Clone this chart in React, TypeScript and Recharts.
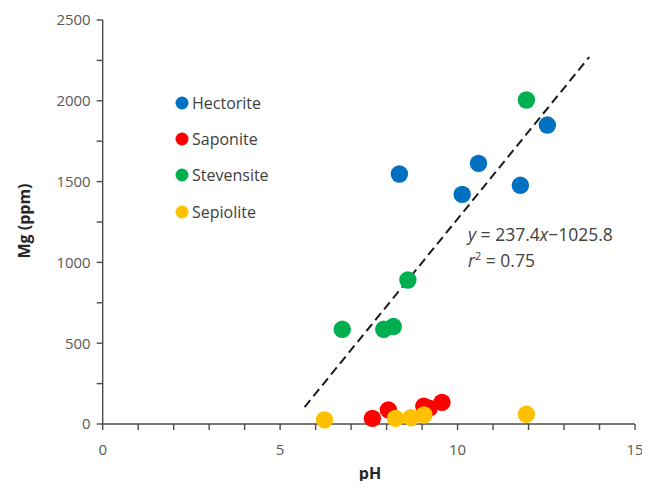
import React from "react";
import {
  ScatterChart,
  Scatter,
  XAxis,
  YAxis,
  ReferenceLine,
} from "recharts";

// values (pH, Mg ppm)
const hectorite = [
  { ph: 8.36, mg: 1547 },
  { ph: 10.13, mg: 1421 },
  { ph: 10.59, mg: 1613 },
  { ph: 11.77, mg: 1477 },
  { ph: 12.53, mg: 1850 },
];

const saponite = [
  { ph: 7.6, mg: 35 },
  { ph: 8.05, mg: 87 },
  { ph: 9.05, mg: 110 },
  { ph: 9.2, mg: 98 },
  { ph: 9.56, mg: 134 },
];

const stevensite = [
  { ph: 6.75, mg: 586 },
  { ph: 7.92, mg: 586 },
  { ph: 8.19, mg: 603 },
  { ph: 8.6, mg: 891 },
  { ph: 11.94, mg: 2005 },
];

const sepiolite = [
  { ph: 6.25, mg: 25 },
  { ph: 8.25, mg: 35 },
  { ph: 8.69, mg: 39 },
  { ph: 9.05, mg: 56 },
  { ph: 11.94, mg: 60 },
];

const trendStart = { x: 5.69, y: 105 };
const trendEnd = { x: 13.71, y: 2271 };

const xTicks = [0, 1, 2, 3, 4, 5, 6, 7, 8, 9, 10, 11, 12, 13, 14, 15];
const yTicks = [0, 250, 500, 750, 1000, 1250, 1500, 1750, 2000, 2250, 2500];

const series = [
  { name: "Hectorite", data: hectorite, color: "#0070C0" },
  { name: "Saponite", data: saponite, color: "#FF0000" },
  { name: "Stevensite", data: stevensite, color: "#00B050" },
  { name: "Sepiolite", data: sepiolite, color: "#FFC000" },
];

const FONT = "'Open Sans', sans-serif";
const AXIS = "#4d4d4d";
const LABEL = "#595959";

const dot = (color: string) => (props: any) =>
  <circle cx={props.cx} cy={props.cy} r={8.7} fill={color} />;

export default function App() {
  return (
    <div style={{ position: "relative", width: 642, height: 473 }}>
      <ScatterChart
        width={642}
        height={473}
        margin={{ top: 12, right: 15, left: 0, bottom: 0 }}
        style={{ overflow: "visible" }}
      >
        <XAxis
          type="number"
          dataKey="ph"
          domain={[0, 15]}
          ticks={xTicks}
          interval={0}
          height={57}
          tickSize={6}
          tickMargin={14}
          stroke={AXIS}
          strokeWidth={1.4}
          tick={{ fill: LABEL, fontSize: 15, fontFamily: FONT }}
          tickFormatter={(v) => (v % 5 === 0 ? String(v) : "")}
        />
        <YAxis
          type="number"
          dataKey="mg"
          domain={[0, 2500]}
          ticks={yTicks}
          interval={0}
          width={94.7}
          tickSize={6}
          tickMargin={6}
          stroke={AXIS}
          strokeWidth={1.4}
          tick={{ fill: LABEL, fontSize: 15, fontFamily: FONT }}
          tickFormatter={(v) => (v % 500 === 0 ? String(v) : "")}
        />
        {series.map((s) => (
          <Scatter
            key={s.name}
            name={s.name}
            data={s.data}
            fill={s.color}
            shape={dot(s.color)}
            isAnimationActive={false}
          />
        ))}
        <ReferenceLine
          segment={[trendStart, trendEnd]}
          stroke="#1a1a1a"
          strokeWidth={2}
          strokeDasharray="9 5"
          ifOverflow="visible"
        />
      </ScatterChart>

      {/* legend */}
      <div
        style={{
          position: "absolute",
          left: 167,
          top: 76.5,
          fontFamily: FONT,
        }}
      >
        {series.map((s) => (
          <div
            key={s.name}
            style={{ display: "flex", alignItems: "center", height: 36.3 }}
          >
            <svg width={14} height={14} style={{ marginRight: 3 }}>
              <circle cx={7} cy={7} r={6.5} fill={s.color} />
            </svg>
            <span style={{ fontSize: 16, color: "#404040" }}>{s.name}</span>
          </div>
        ))}
      </div>

      {/* axis titles */}
      <div
        style={{
          position: "absolute",
          left: 16,
          top: 213,
          transform: "translate(-50%, -50%) rotate(-90deg)",
          fontFamily: FONT,
          fontWeight: 700,
          fontSize: 16,
          color: "#262626",
          whiteSpace: "nowrap",
        }}
      >
        Mg (ppm)
      </div>
      <div
        style={{
          position: "absolute",
          left: 362,
          top: 465,
          transform: "translate(-50%, -50%)",
          fontFamily: FONT,
          fontWeight: 700,
          fontSize: 16,
          lineHeight: "18px",
          color: "#262626",
        }}
      >
        pH
      </div>

      {/* regression text */}
      <div
        style={{
          position: "absolute",
          left: 460,
          top: 216,
          fontFamily: FONT,
          fontSize: 17.5,
          color: "#404040",
          lineHeight: "21px",
          whiteSpace: "nowrap",
        }}
      >
        <div>
          <i>y</i> = 237.4<i>x</i>−1025.8
        </div>
        <div>
          <i>r</i>
          <sup style={{ fontSize: 11, verticalAlign: "7px" }}>2</sup> = 0.75
        </div>
      </div>
    </div>
  );
}
